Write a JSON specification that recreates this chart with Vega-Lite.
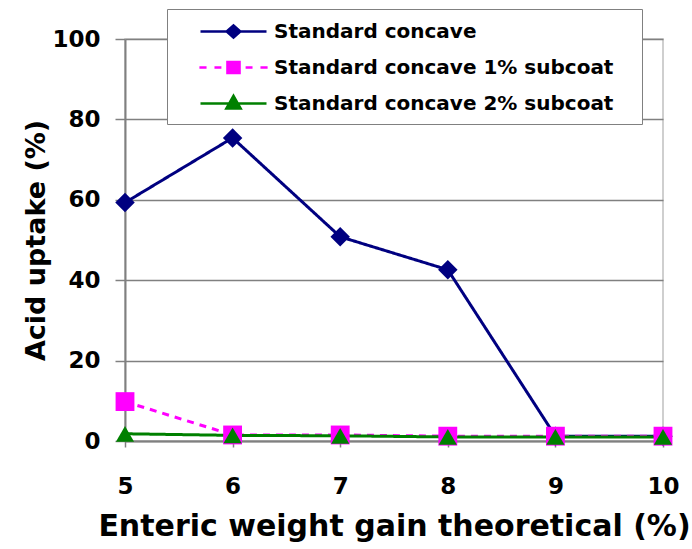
{
  "$schema": "https://vega.github.io/schema/vega-lite/v6.json",
  "width": 538,
  "height": 402,
  "autosize": "none",
  "padding": {"left": 125, "top": 39, "right": 29, "bottom": 108},
  "background": "white",
  "config": {
    "view": {"stroke": "#c0c0c0", "strokeWidth": 1.5},
    "font": "DejaVu Sans"
  },
  "data": {
    "values": [
      {"x": 5, "series": "Standard concave", "value": 59.3},
      {"x": 6, "series": "Standard concave", "value": 75.4},
      {"x": 7, "series": "Standard concave", "value": 50.8},
      {"x": 8, "series": "Standard concave", "value": 42.6},
      {"x": 9, "series": "Standard concave", "value": 1.2},
      {"x": 10, "series": "Standard concave", "value": 1.2},
      {"x": 5, "series": "Standard concave 1% subcoat", "value": 9.8},
      {"x": 6, "series": "Standard concave 1% subcoat", "value": 1.5},
      {"x": 7, "series": "Standard concave 1% subcoat", "value": 1.5},
      {"x": 8, "series": "Standard concave 1% subcoat", "value": 1.2},
      {"x": 9, "series": "Standard concave 1% subcoat", "value": 1.2},
      {"x": 10, "series": "Standard concave 1% subcoat", "value": 1.2},
      {"x": 5, "series": "Standard concave 2% subcoat", "value": 1.8},
      {"x": 6, "series": "Standard concave 2% subcoat", "value": 1.4},
      {"x": 7, "series": "Standard concave 2% subcoat", "value": 1.3},
      {"x": 8, "series": "Standard concave 2% subcoat", "value": 1.0},
      {"x": 9, "series": "Standard concave 2% subcoat", "value": 1.0},
      {"x": 10, "series": "Standard concave 2% subcoat", "value": 1.0}
    ]
  },
  "encoding": {
    "x": {
      "field": "x",
      "type": "quantitative",
      "scale": {"domain": [5, 10], "nice": false, "zero": false},
      "axis": {
        "values": [5, 6, 7, 8, 9, 10],
        "format": "d",
        "grid": false,
        "labelFlush": false,
        "title": "Enteric weight gain theoretical (%)",
        "domainColor": "#808080",
        "domainWidth": 2,
        "tickColor": "#808080",
        "tickWidth": 1.5,
        "tickSize": 6,
        "labelFont": "DejaVu Sans",
        "labelFontSize": 23,
        "labelFontWeight": "bold",
        "labelColor": "black",
        "labelPadding": 28,
        "titleFont": "DejaVu Sans",
        "titleFontSize": 30,
        "titleFontWeight": "bold",
        "titleColor": "black",
        "titlePadding": 13
      }
    },
    "y": {
      "field": "value",
      "type": "quantitative",
      "scale": {"domain": [0, 100], "nice": false},
      "axis": {
        "values": [0, 20, 40, 60, 80, 100],
        "grid": true,
        "gridColor": "#808080",
        "gridWidth": 1.5,
        "title": "Acid uptake (%)",
        "domainColor": "#808080",
        "domainWidth": 2,
        "tickColor": "#808080",
        "tickWidth": 1.5,
        "tickSize": 10,
        "labelFont": "DejaVu Sans",
        "labelFontSize": 23,
        "labelFontWeight": "bold",
        "labelColor": "black",
        "labelPadding": 15,
        "titleFont": "DejaVu Sans",
        "titleFontSize": 27,
        "titleFontWeight": "bold",
        "titleColor": "black",
        "titlePadding": 1
      }
    },
    "color": {
      "field": "series",
      "type": "nominal",
      "scale": {
        "domain": ["Standard concave", "Standard concave 1% subcoat", "Standard concave 2% subcoat"],
        "range": ["#000080", "#ff00ff", "#008000"]
      },
      "legend": {
        "orient": "none",
        "legendX": 42,
        "legendY": -30,
        "title": "\u2003",
        "titleOrient": "right",
        "titleFontSize": 2,
        "titlePadding": 19,
        "fillColor": "white",
        "strokeColor": "#808080",
        "padding": 10,
        "rowPadding": 12,
        "labelFont": "DejaVu Sans",
        "labelFontSize": 20,
        "labelFontWeight": "bold",
        "labelColor": "black",
        "labelOffset": 72,
        "labelLimit": 500,
        "symbolSize": 484,
        "symbolStrokeWidth": 2.5,
        "encode": {
          "symbols": {
            "update": {
              "shape": {"signal": "datum.value === 'Standard concave' ? 'M1,0H7M3.38,0L4,-0.55L4.62,0L4,0.55Z' : datum.value === 'Standard concave 1% subcoat' ? 'M0.9,0H1.55M2.27,0H2.9M5.1,0H5.73M6.45,0H7.1M3.45,-0.5H4.55V0.5H3.45Z' : 'M1,0H7M4,-0.7L4.65,0.45L3.35,0.45Z'"},
              "stroke": {"scale": "color", "field": "value"},
              "fill": {"scale": "color", "field": "value"},
              "strokeWidth": {"value": 2.5},
              "strokeDash": {"value": []},
              "size": {"value": 484},
              "opacity": {"value": 1},
              "fillOpacity": {"value": 1},
              "strokeOpacity": {"value": 1}
            }
          }
        }
      }
    }
  },
  "layer": [
    {
      "mark": {"type": "line", "strokeWidth": 3},
      "encoding": {
        "strokeDash": {
          "field": "series",
          "type": "nominal",
          "scale": {
            "domain": ["Standard concave 2% subcoat", "Standard concave 1% subcoat", "Standard concave"],
            "range": [[1, 0], [7, 6], [1, 0]]
          },
          "legend": null
        }
      }
    },
    {
      "mark": {"type": "point", "filled": true, "opacity": 1},
      "encoding": {
        "shape": {
          "field": "series",
          "type": "nominal",
          "scale": {
            "domain": ["Standard concave 2% subcoat", "Standard concave 1% subcoat", "Standard concave"],
            "range": ["triangle-up", "square", "diamond"]
          },
          "legend": null
        },
        "size": {
          "field": "series",
          "type": "ordinal",
          "scale": {
            "domain": ["Standard concave 2% subcoat", "Standard concave 1% subcoat", "Standard concave"],
            "range": [330, 380, 460]
          },
          "legend": null
        }
      }
    }
  ]
}
